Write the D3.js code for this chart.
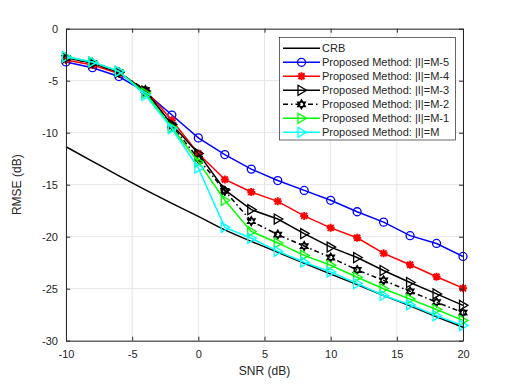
<!DOCTYPE html>
<html lang="en">
<head>
<meta charset="UTF-8">
<title>RMSE vs SNR</title>
<script src="https://cdn.jsdelivr.net/npm/d3@7"></script>
<style>
    body { margin: 0; background: #fff; }
    text { font-family: "Liberation Sans", Arial, sans-serif; fill: #262626; }
    .tick text { font-size: 11px; }
</style>
</head>
<body>
<svg id="main" width="512" height="384"></svg>
<script>
    // data
    let snr = [-10, -8, -6, -4, -2, 0, 2, 4, 6, 8, 10, 12, 14, 16, 18, 20];
    let crb = [-11.35, -12.75, -14.15, -15.5, -16.8, -18.05, -19.35, -20.45, -21.5, -22.55, -23.6, -24.6, -25.65, -26.65, -27.7, -28.7];
    let m5 = [-3.2, -3.75, -4.6, -6.1, -8.3, -10.5, -12.1, -13.5, -14.6, -15.55, -16.5, -17.6, -18.6, -19.9, -20.65, -21.9];
    let m4 = [-3.0, -3.5, -4.3, -5.9, -8.8, -12.0, -14.5, -15.7, -16.6, -18.0, -19.15, -20.1, -21.6, -22.7, -23.85, -24.95];
    let m3 = [-2.8, -3.3, -4.2, -6.0, -9.2, -12.0, -15.5, -17.4, -18.3, -19.7, -21.0, -22.0, -23.25, -24.4, -25.5, -26.6];
    let m2 = [-2.8, -3.3, -4.2, -5.9, -9.3, -12.5, -15.6, -18.5, -19.8, -20.9, -22.0, -23.2, -24.2, -25.25, -26.3, -27.3];
    let m1 = [-2.7, -3.2, -4.1, -6.2, -9.5, -12.8, -16.5, -19.5, -20.6, -21.8, -22.75, -23.9, -25.0, -26.0, -27.0, -28.05];
    let m0 = [-2.7, -3.2, -4.1, -6.4, -9.6, -13.4, -19.1, -20.15, -21.4, -22.45, -23.4, -24.5, -25.65, -26.55, -27.6, -28.55];
    let xTicks = [-10, -5, 0, 5, 10, 15, 20];
    let yTicks = [0, -5, -10, -15, -20, -25, -30];

    let series = [
        {name: 'CRB', values: crb, color: '#000000', marker: null, dash: null},
        {name: 'Proposed Method: |I|=M-5', values: m5, color: '#0000ff', marker: 'circle', dash: null},
        {name: 'Proposed Method: |I|=M-4', values: m4, color: '#ff0000', marker: 'asterisk', dash: null},
        {name: 'Proposed Method: |I|=M-3', values: m3, color: '#000000', marker: 'tri', dash: null},
        {name: 'Proposed Method: |I|=M-2', values: m2, color: '#000000', marker: 'hex', dash: '5,3,1.5,3'},
        {name: 'Proposed Method: |I|=M-1', values: m1, color: '#00ff00', marker: 'tri', dash: null},
        {name: 'Proposed Method: |I|=M', values: m0, color: '#00ffff', marker: 'tri', dash: null}
    ];

    let svg = d3.select('svg#main');
    let plot = {left: 66, right: 463, top: 28.7, bottom: 340.7};

    let xScale = d3.scaleLinear().domain([-10, 20]).range([plot.left, plot.right]);
    let yScale = d3.scaleLinear().domain([-30, 0]).range([plot.bottom, plot.top]);

    // grid
    let grid = svg.append('g');
    grid.selectAll('line.gx').data(xTicks).enter().append('line')
        .attr('x1', d => xScale(d)).attr('x2', d => xScale(d))
        .attr('y1', plot.top).attr('y2', plot.bottom)
        .attr('stroke', '#e6e6e6').attr('stroke-width', 1);
    grid.selectAll('line.gy').data(yTicks).enter().append('line')
        .attr('y1', d => yScale(d)).attr('y2', d => yScale(d))
        .attr('x1', plot.left).attr('x2', plot.right)
        .attr('stroke', '#e6e6e6').attr('stroke-width', 1);

    // markers
    function markerPath(type) {
        if (type === 'circle') return d3.symbol(d3.symbolCircle, 50)();
        if (type === 'tri') return 'M-3.5,-5L5,0L-3.5,5Z';
        if (type === 'asterisk') return 'M-4,0L4,0M0,-4L0,4M-3,-3L3,3M-3,3L3,-3';
        if (type === 'hex') {
            let r = 4.5, p1 = [], p2 = [];
            for (let k = 0; k < 3; k++) {
                let a1 = -Math.PI / 2 + k * 2 * Math.PI / 3;
                let a2 = Math.PI / 2 + k * 2 * Math.PI / 3;
                p1.push([r * Math.cos(a1), r * Math.sin(a1)]);
                p2.push([r * Math.cos(a2), r * Math.sin(a2)]);
            }
            return 'M' + p1.join('L') + 'Z' + 'M' + p2.join('L') + 'Z';
        }
        return '';
    }

    let line = d3.line()
        .x((d, i) => xScale(snr[i]))
        .y(d => yScale(d));

    let lines = svg.append('g');
    series.forEach(function (s) {
        let g = lines.append('g');
        g.append('path')
            .attr('d', s.marker ? line(s.values) : line.curve(d3.curveMonotoneX)(s.values))
            .attr('fill', 'none')
            .attr('stroke', s.color)
            .attr('stroke-width', 1.5)
            .attr('stroke-dasharray', s.dash);
        line.curve(d3.curveLinear);
        if (s.marker) {
            g.selectAll('path.m').data(s.values).enter().append('path')
                .attr('class', 'm')
                .attr('d', markerPath(s.marker))
                .attr('transform', (d, i) => 'translate(' + xScale(snr[i]) + ',' + yScale(d) + ')')
                .attr('fill', 'none')
                .attr('stroke', s.color)
                .attr('stroke-width', s.marker === 'asterisk' ? 2 : 1.3);
        }
    });

    // axes, ticks point inward; plain hyphen for minus like the original
    let fmt = d => String(d);
    let xAxis = d3.axisBottom(xScale).tickValues(xTicks).tickSizeInner(-4).tickSizeOuter(0).tickPadding(10).tickFormat(fmt);
    let yAxis = d3.axisLeft(yScale).tickValues(yTicks).tickSizeInner(-4).tickSizeOuter(0).tickPadding(8).tickFormat(fmt);
    let gx = svg.append('g').attr('transform', 'translate(0,' + plot.bottom + ')').call(xAxis);
    let gy = svg.append('g').attr('transform', 'translate(' + plot.left + ',0)').call(yAxis);
    svg.append('g').attr('transform', 'translate(0,' + plot.top + ')')
        .call(d3.axisTop(xScale).tickValues(xTicks).tickSizeInner(-4).tickSizeOuter(0).tickFormat(''));
    svg.append('g').attr('transform', 'translate(' + plot.right + ',0)')
        .call(d3.axisRight(yScale).tickValues(yTicks).tickSizeInner(-4).tickSizeOuter(0).tickFormat(''));
    svg.selectAll('.domain').attr('stroke', '#262626');
    svg.selectAll('.tick line').attr('stroke', '#262626');
    gx.selectAll('text').attr('font-size', 11).attr('fill', '#262626');
    gy.selectAll('text').attr('font-size', 11).attr('fill', '#262626');

    // axis labels
    svg.append('text').attr('x', (plot.left + plot.right) / 2).attr('y', 375)
        .attr('text-anchor', 'middle').attr('font-size', 12).text('SNR (dB)');
    svg.append('text').attr('transform', 'translate(21,' + (plot.top + plot.bottom) / 2 + ') rotate(-90)')
        .attr('text-anchor', 'middle').attr('font-size', 12).text('RMSE (dB)');

    // legend
    let leg = svg.append('g');
    leg.append('rect').attr('x', 279.5).attr('y', 37.5).attr('width', 176).attr('height', 102.5)
        .attr('fill', '#fff').attr('stroke', '#262626').attr('stroke-width', 0.7);
    let items = leg.selectAll('g.item').data(series).enter().append('g')
        .attr('transform', (d, i) => 'translate(0,' + (48.3 + i * 14) + ')');
    items.append('line').attr('x1', 283).attr('x2', 320).attr('y1', 0).attr('y2', 0)
        .attr('stroke', d => d.color).attr('stroke-width', 1.5)
        .attr('stroke-dasharray', d => d.dash);
    items.filter(d => d.marker).append('path')
        .attr('d', d => markerPath(d.marker))
        .attr('transform', 'translate(301.5,0)')
        .attr('fill', 'none').attr('stroke', d => d.color)
        .attr('stroke-width', d => d.marker === 'asterisk' ? 2 : 1.3);
    items.append('text').attr('x', 322).attr('y', 4).attr('font-size', 11)
        .attr('fill', '#000').text(d => d.name);
</script>
</body>
</html>
